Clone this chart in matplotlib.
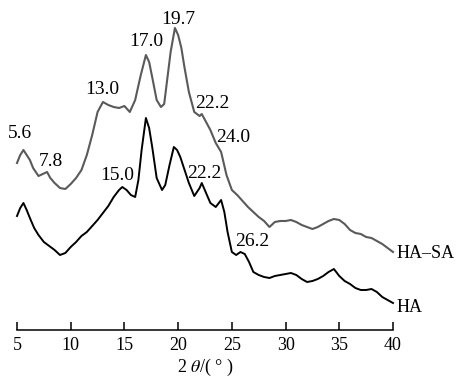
import matplotlib
matplotlib.use("Agg")
import matplotlib.pyplot as plt

plt.rcParams['font.family'] = ['Liberation Serif', 'DejaVu Serif']
plt.rcParams['mathtext.fontset'] = 'stix'

# 2theta (deg) and intensity (a.u.)
ha_sa_x = [5.0, 5.3, 5.6, 5.9, 6.2, 6.5, 7.0, 7.4, 7.8, 8.1, 8.5,
           9.0, 9.5, 10.0, 10.5, 11.0, 11.5, 12.0, 12.5,
           13.0, 13.5, 14.0, 14.5, 15.0, 15.5, 16.0, 16.5, 17.0,
           17.3, 17.6, 18.0, 18.4, 18.7, 19.0, 19.3, 19.7,
           20.0, 20.3, 20.6, 21.0, 21.5, 22.0, 22.2, 22.6, 23.0,
           23.5, 24.0, 24.5, 25.0, 25.5, 26.0, 26.5, 27.0, 27.5, 28.0,
           28.5, 29.0, 29.5, 30.0, 30.5, 31.0, 31.5, 32.0, 32.5, 33.0,
           33.5, 34.0, 34.5, 35.0, 35.5, 36.0, 36.5, 37.0, 37.5, 38.0,
           38.5, 39.0, 39.5, 40.0]
ha_sa_y = [167, 175, 180, 175, 170, 162, 154, 156, 158, 152, 147,
           142, 141, 146, 152, 160, 175, 195, 218,
           228, 225, 223, 222, 224, 218, 230, 254, 275,
           268, 252, 230, 223, 226, 252, 278, 302,
           295, 282, 262, 238, 218, 214, 216, 208, 200,
           187, 178, 155, 140, 135, 129, 123, 118, 113, 109,
           103, 108, 109, 109, 110, 108, 105, 103, 101, 103,
           106, 109, 111, 110, 106, 100, 97, 96, 93, 92,
           89, 86, 82, 78]

ha_x = [5.0, 5.3, 5.6, 5.9, 6.2, 6.6, 7.0, 7.5, 8.0, 8.5,
        9.0, 9.5, 10.0, 10.5, 11.0, 11.5, 12.0, 12.5, 13.0, 13.5,
        14.0, 14.5, 14.8, 15.2, 15.6, 16.0, 16.3, 16.6, 17.0,
        17.3, 17.6, 18.0, 18.5, 18.8, 19.2, 19.6, 19.9, 20.2, 20.6,
        21.0, 21.5, 22.0, 22.2, 22.6, 23.0, 23.5, 24.0, 24.3, 24.6,
        25.0, 25.4, 25.8, 26.2, 26.6, 27.0, 27.5, 28.0, 28.5, 29.0,
        29.5, 30.0, 30.5, 31.0, 31.5, 32.0, 32.5, 33.0, 33.5, 34.0,
        34.5, 35.0, 35.5, 36.0, 36.5, 37.0, 37.5, 38.0, 38.5, 39.0,
        39.5, 40.0]
ha_y = [114, 122, 127, 120, 112, 102, 95, 88, 84, 80,
        75, 77, 83, 88, 94, 98, 104, 110, 117, 124,
        133, 140, 143, 140, 135, 133, 150, 180, 212,
        202, 182, 152, 140, 145, 165, 183, 180, 173, 160,
        147, 134, 142, 147, 137, 127, 123, 130, 118, 98,
        78, 75, 78, 76, 68, 58, 55, 53, 52, 54,
        55, 56, 57, 55, 51, 48, 49, 51, 54, 58,
        61, 54, 49, 46, 42, 40, 40, 41, 38, 33,
        30, 27]

peak_labels = ["5.6", "7.8", "13.0", "17.0", "19.7", "22.2", "24.0",
               "15.0", "22.2", "26.2"]
label_pos = [(5.28, 197), (8.17, 168), (12.91, 241), (17.01, 289),
             (19.99, 310), (23.16, 226), (25.11, 193),
             (14.31, 155), (22.41, 157), (26.88, 89)]

fig = plt.figure(figsize=(4.57, 3.77), dpi=100)
ax = fig.add_axes([17/457, 47/377, 376/457, 330/377])

ax.plot(ha_sa_x, ha_sa_y, color='#5a5a5a', lw=1.5, clip_on=False)
ax.plot(ha_x, ha_y, color='black', lw=1.4, clip_on=False)

for txt, (x, y) in zip(peak_labels, label_pos):
    ax.text(x, y, txt, ha='center', va='center', fontsize=14)

ax.text(40.3, 77, "HA\u2013SA", ha='left', va='center', fontsize=13)
ax.text(40.3, 23, "HA", ha='left', va='center', fontsize=13)

ax.set_xlim(5, 40)
ax.set_ylim(0, 330)
ax.set_xticks(range(5, 41, 5))
ax.set_yticks([])
for s in ['left', 'right', 'top']:
    ax.spines[s].set_visible(False)
ax.spines['bottom'].set_linewidth(1.1)
ax.tick_params(axis='x', direction='in', length=6, width=1.1,
               labelsize=13, pad=5)
ax.set_xlabel("2 $\\theta$/( \u00b0 )", fontsize=13, labelpad=2)

fig.savefig("out.png", dpi=100)
